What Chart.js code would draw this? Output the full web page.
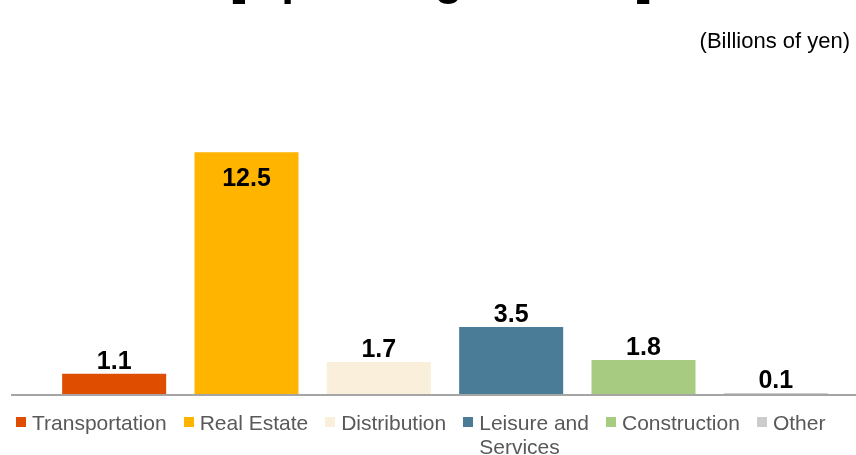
<!DOCTYPE html>
<html>
<head>
<meta charset="utf-8">
<script src="https://cdn.jsdelivr.net/npm/chart.js@4.4.1/dist/chart.umd.min.js"></script>
<style>
  body { margin: 0; background: #fff; overflow: hidden; }
  #wrap { position: relative; width: 856px; height: 455px; }
  #legend {
    position: absolute; left: 16px; top: 411px;
    display: flex; align-items: flex-start;
    font-family: "Liberation Sans", Arial, sans-serif;
    font-size: 21px; line-height: 24px; color: #595959;
  }
  .item { display: flex; align-items: flex-start; margin-right: 17px; white-space: nowrap; }
  .box { width: 10px; height: 10px; margin-top: 6px; margin-right: 6px; flex: none; }
</style>
</head>
<body>
<div id="wrap">
  <canvas id="myChart" width="856" height="455"></canvas>
  <div id="legend"></div>
</div>
<script>
const title = "[Operating Income]";
const unitText = "(Billions of yen)";
const categories = ["Transportation", "Real Estate", "Distribution", ["Leisure and", "Services"], "Construction", "Other"];
const values = [1.1, 12.5, 1.7, 3.5, 1.8, 0.1];
const colors = ["#DF4E00", "#FFB400", "#FAEFDB", "#4A7C98", "#A6CB81", "#CCCCCC"];

// headline (cut off at the top of the picture) and unit note
const headerPlugin = {
  id: "header",
  afterDraw(chart) {
    const ctx = chart.ctx;
    ctx.save();
    ctx.fillStyle = "#000";
    ctx.textBaseline = "alphabetic";
    ctx.font = "bold 46px 'Liberation Sans', Arial, sans-serif";
    ctx.textAlign = "center";
    ctx.fillText(title, 441, -6);
    ctx.font = "22px 'Liberation Sans', Arial, sans-serif";
    ctx.textAlign = "right";
    ctx.fillText(unitText, 850, 48);
    ctx.restore();
  }
};

// baseline + value labels
const barLabels = {
  id: "barLabels",
  afterDatasetsDraw(chart) {
    const ctx = chart.ctx;
    const y0 = chart.scales.y.getPixelForValue(0);
    ctx.save();
    ctx.fillStyle = "#A5A5A5";
    ctx.fillRect(11, y0 - 1, 845, 2);

    ctx.fillStyle = "#000";
    ctx.font = "bold 25px 'Liberation Sans', Arial, sans-serif";
    ctx.textAlign = "center";
    ctx.textBaseline = "alphabetic";
    chart.getDatasetMeta(0).data.forEach((bar, i) => {
      const txt = values[i].toFixed(1);
      if (bar.y - 30 < chart.chartArea.top) {
        ctx.fillText(txt, bar.x, bar.y + 34);
      } else {
        ctx.fillText(txt, bar.x, bar.y - 5);
      }
    });
    ctx.restore();
  }
};

const ctx = document.getElementById("myChart").getContext("2d");
new Chart(ctx, {
  type: "bar",
  data: {
    labels: categories,
    datasets: [{
      data: values,
      backgroundColor: colors,
      borderWidth: 0,
      categoryPercentage: 1,
      barPercentage: 0.786
    }]
  },
  options: {
    responsive: false,
    devicePixelRatio: 1,
    animation: false,
    layout: { padding: { left: 48, right: 14, top: 123, bottom: 60 } },
    plugins: {
      legend: { display: false },
      tooltip: { enabled: false }
    },
    scales: {
      x: { display: false },
      y: { display: false, min: 0, max: 14 }
    }
  },
  plugins: [barLabels, headerPlugin]
});

// legend below the plot
const legendEl = document.getElementById("legend");
categories.forEach((cat, i) => {
  const item = document.createElement("div");
  item.className = "item";
  const box = document.createElement("span");
  box.className = "box";
  box.style.background = colors[i];
  const label = document.createElement("span");
  label.innerHTML = Array.isArray(cat) ? cat.join("<br>") : cat;
  item.appendChild(box);
  item.appendChild(label);
  legendEl.appendChild(item);
});
</script>
</body>
</html>
